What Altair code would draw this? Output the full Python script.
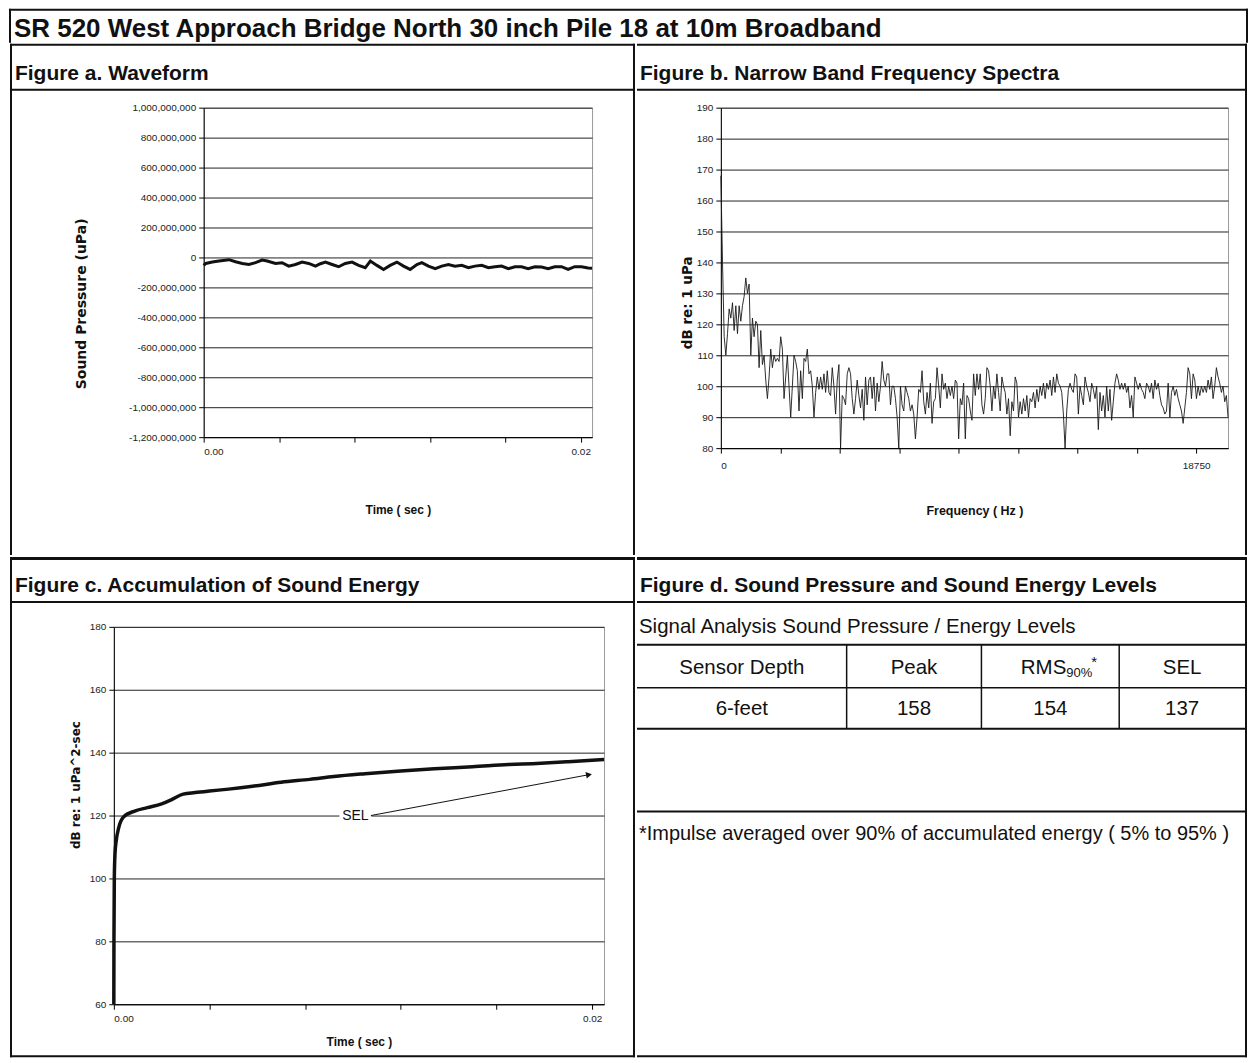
import altair as alt
import pandas as pd

FONT_N = "Liberation Sans Narrow, Arial Narrow, Liberation Sans, sans-serif"
FONT_R = "Liberation Sans, Arial, sans-serif"
FONT_W = "DejaVu Sans, Verdana, sans-serif"

# ---------------- text ----------------
TITLE = "SR 520 West Approach Bridge North 30 inch Pile 18 at 10m Broadband"
HEAD_A = "Figure a. Waveform"
HEAD_B = "Figure b. Narrow Band Frequency Spectra"
HEAD_C = "Figure c. Accumulation of Sound Energy"
HEAD_D = "Figure d. Sound Pressure and Sound Energy Levels"

# ---------------- Figure a: waveform ----------------
WAVE_T_MS = [0.0, 0.11, 0.46, 0.81, 1.34, 1.69, 2.05, 2.40, 2.75, 3.10, 3.37, 3.81, 4.16, 4.51, 4.87,
             5.22, 5.57, 5.93, 6.19, 6.46, 6.81, 7.16, 7.51, 7.87, 8.22, 8.57, 8.84, 9.19, 9.54, 9.89,
             10.25, 10.60, 10.95, 11.31, 11.57, 11.92, 12.28, 12.63, 12.98, 13.33, 13.69, 14.04, 14.39,
             14.75, 15.10, 15.45, 15.80, 16.16, 16.51, 16.86, 17.21, 17.57, 17.92, 18.27, 18.62, 18.98,
             19.33, 19.68, 20.04, 20.39, 20.6]
WAVE_P_MUPA = [-53, -40, -31, -24, -15, -29, -40, -47, -35, -18, -24, -40, -35, -58, -47, -31, -40,
               -58, -42, -31, -47, -62, -40, -31, -53, -69, -24, -53, -80, -53, -31, -58, -80, -47,
               -35, -58, -75, -58, -47, -58, -53, -69, -58, -53, -69, -62, -58, -75, -62, -62, -75,
               -62, -64, -75, -62, -62, -80, -62, -62, -71, -72]
WAVE_Y_TICKS = list(range(-1200000000, 1000000001, 200000000))
TIME_TICKS = [0, 0.004, 0.008, 0.012, 0.016, 0.02]

# ---------------- Figure b: spectrum ----------------
SPEC_BIN_HZ = 65.6
SPEC_DB = [
    168, 140, 116, 110, 117, 125, 122, 127, 118, 126,
    117, 126, 121, 126, 129, 135, 130, 133, 110, 122,
    116, 121, 120, 106, 118, 107, 110, 102, 96, 103,
    112, 106, 110, 108, 109, 108, 116, 112, 96, 103,
    110, 100, 90, 100, 110, 108, 105, 92, 105, 96,
    109, 108, 112, 104, 105, 100, 90, 98, 103, 99,
    103, 99, 104, 98, 105, 98, 97, 106, 100, 91,
    102, 107, 80, 97, 96, 94, 104, 106, 104, 96,
    91, 96, 102, 97, 93, 99, 89, 103, 94, 102,
    103, 96, 103, 92, 101, 95, 100, 108, 102, 100,
    104, 104, 94, 100, 100, 96, 90, 80, 100, 94,
    92, 100, 98, 96, 92, 94, 91, 83, 90, 99,
    98, 105, 95, 91, 98, 93, 101, 88, 95, 96,
    106, 100, 93, 104, 99, 101, 96, 100, 97, 100,
    96, 102, 101, 83, 96, 94, 101, 83, 97, 96,
    92,
    89, 104, 97, 104, 99, 104, 94, 91, 96, 106,
    105, 100, 92, 100, 96, 104, 98, 92, 103, 100,
    98, 91, 96, 84, 95, 92, 103, 101, 90, 95,
    91, 96, 92, 97, 90, 96, 95, 98, 93, 99,
    95, 100, 97, 101, 96, 101, 99, 102, 97, 103,
    98, 104, 101, 100, 98, 91, 80, 92, 99, 101,
    99, 98, 104, 103, 91, 100, 97, 94, 103, 100,
    98, 95, 101, 99, 96, 100, 86, 98, 92, 97,
    90, 100, 92, 99, 89, 95, 101, 104, 102, 99,
    101, 99, 101, 98, 100, 93, 97, 90, 103, 101,
    99, 101, 99, 98, 96, 101, 100, 98, 101, 96,
    102, 99, 101, 97, 94, 93, 91, 92, 101, 90,
    98, 100, 97, 99, 96, 94, 92, 88, 93, 98,
    106, 104, 96, 104, 102, 96, 100, 97, 100, 98,
    100, 98, 102, 99, 103, 96, 100, 106, 103, 101,
    98, 100, 95, 97, 90,
]
SPEC_X_TICKS = [0, 2343.75, 4687.5, 7031.25, 9375, 11718.75, 14062.5, 16406.25, 18750]

# ---------------- Figure c: accumulated energy ----------------
SEL_T_MS = [0.0, 0.005, 0.02, 0.05, 0.1, 0.2, 0.4, 0.9, 1.4, 2.0, 2.4, 2.9, 3.4, 4.0, 4.8, 5.8,
            7.0, 8.2, 9.2, 10.5, 12.0, 13.4, 15.0, 16.5, 17.5, 19.0, 20.5]
SEL_DB = [60, 80, 100, 108, 112, 116, 119.5, 121.5, 122.5, 123.7, 125.0, 126.8, 127.3, 127.8, 128.4,
          129.3, 130.6, 131.5, 132.4, 133.3, 134.2, 134.9, 135.5, 136.2, 136.5, 137.1, 137.8]
SEL_NOTE = "SEL"
SEL_NOTE_T_MS = 10.1
SEL_NOTE_DB = 120
SEL_ARROW_START = (10.75, 120)
SEL_ARROW_END = (19.87, 133)

# ---------------- Figure d: table ----------------
TABLE_CAPTION = "Signal Analysis Sound Pressure / Energy Levels"
TABLE_HEAD = ["Sensor Depth", "Peak", "RMS", "SEL"]
RMS_SUB = "90%"
RMS_MARK = "*"
TABLE_ROW = ["6-feet", "158", "154", "137"]
FOOTNOTE = "*Impulse averaged over 90% of accumulated energy ( 5% to 95% )"

# ---------------- helpers ----------------
ONE = alt.Data(values=[{"k": 0}])
INK = "#111111"


def box(x1, x2, y1, y2, color=INK):
    """Filled bar used for frame lines (exact bounds, no stroke)."""
    return alt.Chart(ONE).mark_rect(color=color).encode(
        x=alt.value(x1), x2=alt.value(x2), y=alt.value(y1), y2=alt.value(y2))


def hline(x1, x2, y, w=1.5, color=INK):
    return alt.Chart(ONE).mark_rule(color=color, strokeWidth=w).encode(
        x=alt.value(x1), x2=alt.value(x2), y=alt.value(y))


def vline(x, y1, y2, w=1.5, color=INK):
    return alt.Chart(ONE).mark_rule(color=color, strokeWidth=w).encode(
        x=alt.value(x), y=alt.value(y1), y2=alt.value(y2))


def label(text, x, y, size, weight="normal", align="left", font=FONT_R, color=INK):
    return alt.Chart(ONE).mark_text(text=text, align=align, baseline="middle", fontSize=size,
                                    fontWeight=weight, font=font, color=color).encode(
        x=alt.value(x), y=alt.value(y))


AX = dict(labelFont=FONT_N, labelFontSize=10, labelColor="#222", tickColor="#000", domainColor="#000",
          tickSize=5, tickWidth=1, domainWidth=1, titleFontWeight="bold", titleColor=INK,
          gridColor="#222", gridWidth=1, titleAlign="center", titleBaseline="middle")

HEAD_SIZE = 21
TXT_SIZE = 20.5
VIEW = alt.ViewBackground(stroke="#9a9a9a", strokeWidth=1)

spacer = alt.Chart(ONE).mark_rule(opacity=0).encode(x=alt.value(0), y=alt.value(0)).properties(width=1, height=1)

# ---------------- Panel a ----------------
wave_df = pd.DataFrame({"t": [v / 1000 for v in WAVE_T_MS], "p": [v * 1e6 for v in WAVE_P_MUPA]})
WA, HA = 389, 330
wave = alt.Chart(wave_df).mark_line(color=INK, strokeWidth=3).encode(
    x=alt.X("t:Q", scale=alt.Scale(domain=[0, 0.0206], nice=False, zero=False),
            axis=alt.Axis(values=TIME_TICKS, grid=False, title="Time ( sec )", titleFont=FONT_R,
                          titleFontSize=12, titleX=WA / 2, titleY=72, labelPadding=4,
                          labelExpr="(datum.value == 0 || datum.value > 0.019) ? format(datum.value, '.2f') : ''",
                          **AX)),
    y=alt.Y("p:Q", scale=alt.Scale(domain=[-1.2e9, 1e9], nice=False, zero=False),
            axis=alt.Axis(values=WAVE_Y_TICKS, grid=True, title="Sound Pressure (uPa)", titleFont=FONT_W,
                          titleFontSize=14, titleX=-122, titleY=196, titleAngle=270, labelPadding=3,
                          labelExpr="replace(format(datum.value, ','), '\u2212', '-')", **AX)),
)
panel_a = alt.layer(
    wave,
    box(-194, 432, -64, -62), box(-194, -192, -64, 448), box(430, 432, -64, 448), box(-194, 432, -19, -17),
    label(HEAD_A, -189, -34, HEAD_SIZE, "bold"),
).properties(width=WA, height=HA, view=VIEW)

# ---------------- Panel b ----------------
spec_df = pd.DataFrame({"f": [i * SPEC_BIN_HZ for i in range(len(SPEC_DB))], "db": SPEC_DB})
WB, HB = 508, 341
spec = alt.Chart(spec_df).mark_line(color="#1a1a1a", strokeWidth=0.9).encode(
    x=alt.X("f:Q", scale=alt.Scale(domain=[0, 20008], nice=False, zero=False),
            axis=alt.Axis(values=SPEC_X_TICKS, grid=False, title="Frequency ( Hz )", titleFont=FONT_R,
                          titleFontSize=12.5, titleX=WB / 2, titleY=62, labelPadding=7,
                          labelExpr="(datum.value == 0 || datum.value == 18750) ? format(datum.value, 'd') : ''",
                          **AX)),
    y=alt.Y("db:Q", scale=alt.Scale(domain=[80, 190], nice=False, zero=False),
            axis=alt.Axis(values=list(range(80, 191, 10)), grid=True, title="dB re: 1 uPa", titleFont=FONT_W,
                          titleFontSize=13.5, titleX=-33, titleY=195, titleAngle=270, labelPadding=3, **AX)),
)
panel_b = alt.layer(
    spec,
    box(-84, 527, -64, -62), box(525, 527, -64, 448), box(-84, 527, -19, -17),
    label(HEAD_B, -81, -34, HEAD_SIZE, "bold"),
).properties(width=WB, height=HB, view=VIEW)

# ---------------- Panel c ----------------
sel_df = pd.DataFrame({"t": [v / 1000 for v in SEL_T_MS], "db": SEL_DB})
note_df = pd.DataFrame({"t": [SEL_NOTE_T_MS / 1000], "db": [SEL_NOTE_DB], "txt": [SEL_NOTE]})
arrow_df = pd.DataFrame({"t1": [SEL_ARROW_START[0] / 1000], "d1": [SEL_ARROW_START[1]],
                         "t2": [SEL_ARROW_END[0] / 1000], "d2": [SEL_ARROW_END[1]]})
WC, HC = 491, 378
xs_c = alt.Scale(domain=[0, 0.0205], nice=False, zero=False)
ys_c = alt.Scale(domain=[60, 180], nice=False, zero=False)
sel_line = alt.Chart(sel_df).mark_line(color=INK, strokeWidth=3.5, interpolate="monotone").encode(
    x=alt.X("t:Q", scale=xs_c,
            axis=alt.Axis(values=TIME_TICKS, grid=False, title="Time ( sec )", titleFont=FONT_R,
                          titleFontSize=12, titleX=WC / 2, titleY=37, labelPadding=4,
                          labelExpr="(datum.value == 0 || datum.value > 0.019) ? format(datum.value, '.2f') : ''",
                          **AX)),
    y=alt.Y("db:Q", scale=ys_c,
            axis=alt.Axis(values=list(range(60, 181, 20)), grid=True, title="dB re: 1 uPa^2-sec",
                          titleFont=FONT_W, titleFontSize=12, titleX=-38, titleY=158,
                          titleAngle=270, labelPadding=3, **AX)),
)
note_bg = alt.Chart(note_df).mark_rect(color="white", xOffset=-16, x2Offset=16, yOffset=-8, y2Offset=8).encode(
    x=alt.X("t:Q", scale=xs_c), x2="t", y=alt.Y("db:Q", scale=ys_c), y2="db")
note_txt = alt.Chart(note_df).mark_text(font=FONT_R, fontSize=14, color=INK).encode(
    x=alt.X("t:Q", scale=xs_c), y=alt.Y("db:Q", scale=ys_c), text="txt:N")
arrow_line = alt.Chart(arrow_df).mark_rule(color=INK, strokeWidth=1).encode(
    x=alt.X("t1:Q", scale=xs_c), x2="t2", y=alt.Y("d1:Q", scale=ys_c), y2="d2")
arrow_head = alt.Chart(arrow_df).mark_point(shape="triangle-right", filled=True, size=45, color=INK,
                                            opacity=1, angle=349.4).encode(
    x=alt.X("t2:Q", scale=xs_c), y=alt.Y("d2:Q", scale=ys_c))
panel_c = alt.layer(
    sel_line, note_bg, note_txt, arrow_line, arrow_head,
    box(-104, 522, -70, -67), box(-104, -102, -70, 431), box(520, 522, -70, 431),
    box(-104, 522, 429, 431), box(-104, 522, -26, -24),
    label(HEAD_C, -99, -41, HEAD_SIZE, "bold"),
).properties(width=WC, height=HC, view=VIEW)

# ---------------- Panel d ----------------
WD = 611
COL_DIV = [210, 345, 483]
COL_CENTER = [105, 277.5, 414, 546]
d_layers = [
    box(0, WD, -70, -67), box(WD - 2, WD, -70, 431), box(0, WD, 429, 431), box(0, WD, -26, -24),
    label(HEAD_D, 3, -41, HEAD_SIZE, "bold"),
    label(TABLE_CAPTION, 2, 0, TXT_SIZE),
    box(0, WD - 1, 17, 19), hline(0, WD - 1, 61), box(0, WD - 1, 101, 103),
    box(0, WD - 1, 184, 186),
    label(FOOTNOTE, 2, 207, 20),
]
for xd in COL_DIV:
    d_layers.append(vline(xd, 18, 102))
for i, (h, v) in enumerate(zip(TABLE_HEAD, TABLE_ROW)):
    if h == "RMS":
        d_layers.append(label(h, COL_CENTER[i] + 16, 41, TXT_SIZE, align="right"))
        d_layers.append(label(RMS_SUB, COL_CENTER[i] + 16, 46, 13))
        d_layers.append(label(RMS_MARK, COL_CENTER[i] + 41, 35, 15))
    else:
        d_layers.append(label(h, COL_CENTER[i], 41, TXT_SIZE, align="center"))
    d_layers.append(label(v, COL_CENTER[i], 82, TXT_SIZE, align="center"))
panel_d = alt.layer(*d_layers).properties(width=WD, height=400)

# ---------------- Title row ----------------
WT, HT = 1242, 34
title_row = alt.layer(
    box(1, WT, 0, 2), box(1, 3, 0, HT), box(WT - 2, WT, 0, HT),
    label(TITLE, 6, 20, 26, "bold"),
).properties(width=WT, height=HT)

chart = alt.vconcat(
    title_row,
    alt.hconcat(spacer, panel_a, panel_b, spacing=0),
    alt.hconcat(spacer, panel_c, panel_d, spacing=0),
    spacing=0,
).properties(padding=0, background="white").configure_view(stroke="transparent", strokeWidth=0)

chart.save("out.html", embed_options={"renderer": "svg", "actions": False})
